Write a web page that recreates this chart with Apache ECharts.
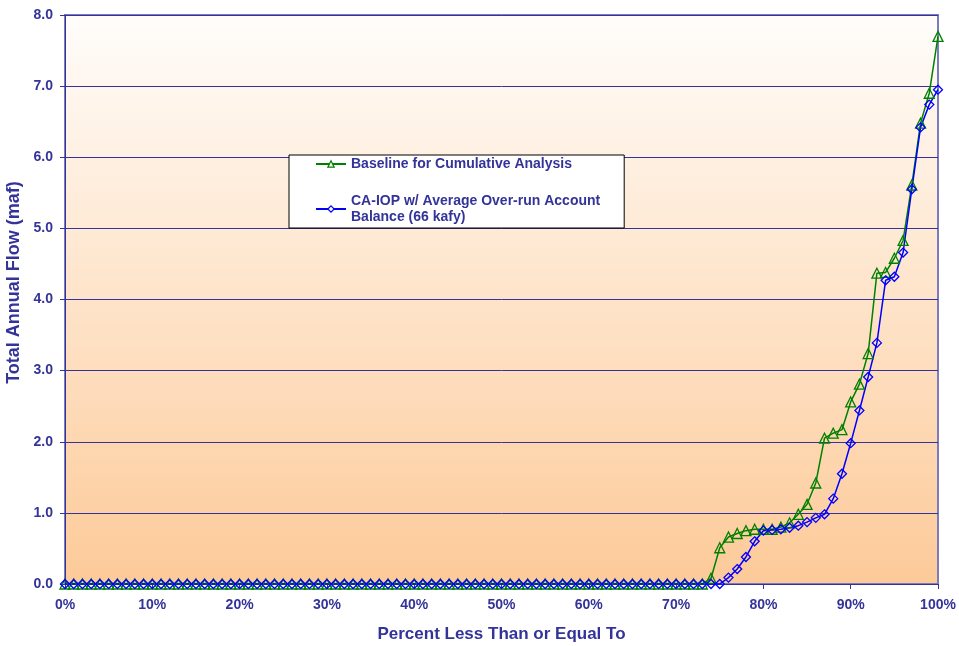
<!DOCTYPE html>
<html>
<head>
<meta charset="utf-8">
<script src="https://cdn.jsdelivr.net/npm/echarts@6/dist/echarts.min.js"></script>
<style>
  html, body { margin: 0; padding: 0; background: #fff; }
  #chart { width: 959px; height: 646px; }
</style>
</head>
<body>
<div id="chart"></div>
<script>
// percent exceedance positions (x)
const percents = [
  0, 1, 2, 3, 4, 5, 6, 7, 8, 9, 10, 11, 12, 13, 14, 15, 16, 17, 18, 19,
  20, 21, 22, 23, 24, 25, 26, 27, 28, 29, 30, 31, 32, 33, 34, 35, 36, 37, 38, 39,
  40, 41, 42, 43, 44, 45, 46, 47, 48, 49, 50, 51, 52, 53, 54, 55, 56, 57, 58, 59,
  60, 61, 62, 63, 64, 65, 66, 67, 68, 69, 70, 71, 72, 73, 74, 75, 76, 77, 78, 79,
  80, 81, 82, 83, 84, 85, 86, 87, 88, 89, 90, 91, 92, 93, 94, 95, 96, 97, 98, 99, 100
];

// Baseline for Cumulative Analysis (maf)
const baseline = [
  0, 0, 0, 0, 0, 0, 0, 0, 0, 0, 0, 0, 0, 0, 0, 0, 0, 0, 0, 0,
  0, 0, 0, 0, 0, 0, 0, 0, 0, 0, 0, 0, 0, 0, 0, 0, 0, 0, 0, 0,
  0, 0, 0, 0, 0, 0, 0, 0, 0, 0, 0, 0, 0, 0, 0, 0, 0, 0, 0, 0,
  0, 0, 0, 0, 0, 0, 0, 0, 0, 0, 0, 0, 0, 0, 0.08, 0.51, 0.66, 0.71, 0.75, 0.77,
  0.77, 0.77, 0.80, 0.86, 0.98, 1.12, 1.42, 2.05, 2.12, 2.17, 2.56, 2.81, 3.24, 4.37, 4.38, 4.58, 4.83, 5.61, 6.48, 6.90, 7.70
];

// CA-IOP w/ Average Over-run Account Balance (maf)
const caiop = [
  0, 0, 0, 0, 0, 0, 0, 0, 0, 0, 0, 0, 0, 0, 0, 0, 0, 0, 0, 0,
  0, 0, 0, 0, 0, 0, 0, 0, 0, 0, 0, 0, 0, 0, 0, 0, 0, 0, 0, 0,
  0, 0, 0, 0, 0, 0, 0, 0, 0, 0, 0, 0, 0, 0, 0, 0, 0, 0, 0, 0,
  0, 0, 0, 0, 0, 0, 0, 0, 0, 0, 0, 0, 0, 0, 0, 0, 0.09, 0.21, 0.38, 0.60,
  0.75, 0.76, 0.77, 0.79, 0.82, 0.87, 0.93, 0.98, 1.20, 1.55, 1.98, 2.44, 2.91, 3.39, 4.27, 4.32, 4.66, 5.55, 6.42, 6.74, 6.95
];

const seriesNames = [
  'Baseline for Cumulative Analysis',
  'CA-IOP w/ Average Over-run Account\nBalance (66 kafy)'
];
const seriesColors = ['#008000', '#0000ff'];

const navy = '#333399';
const font = 'Arial, "Liberation Sans", sans-serif';

const toPairs = vals => percents.map((p, i) => [p, vals[i]]);

const chart = echarts.init(document.getElementById('chart'));

const option = {
  animation: false,
  textStyle: { fontFamily: font },
  grid: {
    left: 65, right: 21, top: 15, bottom: 62,
    containLabel: false,
    outerBoundsMode: 'none',
    show: true,
    borderColor: '#7b7bbd',
    borderWidth: 2,
    backgroundColor: new echarts.graphic.LinearGradient(0, 0, 0, 1, [
      { offset: 0, color: '#fffdfb' },
      { offset: 1, color: '#fdca98' }
    ])
  },
  legend: {
    orient: 'vertical',
    left: 289, top: 155,
    backgroundColor: '#ffffff',
    borderColor: '#000000',
    borderWidth: 1,
    padding: [1, 24, 3, 26],
    itemGap: 21,
    itemWidth: 30,
    itemHeight: 8,
    textStyle: { color: navy, fontWeight: 'bold', fontSize: 14, fontFamily: font, lineHeight: 16 },
    data: seriesNames.map((n, i) => ({
      name: n,
      itemStyle: { color: '#ffffff', borderColor: seriesColors[i], borderWidth: 1.2 }
    }))
  },
  xAxis: {
    type: 'value',
    min: 0, max: 100, interval: 10,
    name: 'Percent Less Than or Equal To',
    nameLocation: 'middle',
    nameGap: 42,
    nameTextStyle: { color: navy, fontWeight: 'bold', fontSize: 17, fontFamily: font },
    axisLine: { lineStyle: { color: navy, width: 1 } },
    axisTick: { show: true, length: 5, lineStyle: { color: navy } },
    axisLabel: {
      color: navy, fontWeight: 'bold', fontSize: 14, margin: 14,
      formatter: v => v + '%'
    },
    splitLine: { show: false }
  },
  yAxis: {
    type: 'value',
    min: 0, max: 8, interval: 1,
    name: 'Total Annual Flow (maf)',
    nameLocation: 'middle',
    nameGap: 28,
    nameTextStyle: {
      color: navy, fontWeight: 'bold', fontSize: 18, fontFamily: font,
      padding: [0, 0, 0, 34]
    },
    axisLine: { show: true, lineStyle: { color: navy, width: 1 } },
    axisTick: { show: true, length: 5, lineStyle: { color: navy } },
    axisLabel: {
      color: navy, fontWeight: 'bold', fontSize: 14, margin: 12,
      formatter: v => v.toFixed(1)
    },
    splitLine: { show: true, lineStyle: { color: navy, width: 1 } }
  },
  series: [
    {
      name: seriesNames[0],
      type: 'line',
      data: toPairs(baseline),
      symbol: 'triangle',
      symbolSize: 10,
      showAllSymbol: true,
      lineStyle: { color: seriesColors[0], width: 1.5 },
      itemStyle: { color: 'rgba(0,0,0,0)', borderColor: seriesColors[0], borderWidth: 1.3 }
    },
    {
      name: seriesNames[1],
      type: 'line',
      data: toPairs(caiop),
      symbol: 'diamond',
      symbolSize: 9,
      showAllSymbol: true,
      lineStyle: { color: seriesColors[1], width: 1.5 },
      itemStyle: { color: 'rgba(0,0,0,0)', borderColor: seriesColors[1], borderWidth: 1.3 }
    }
  ]
};

chart.setOption(option);
</script>
</body>
</html>
